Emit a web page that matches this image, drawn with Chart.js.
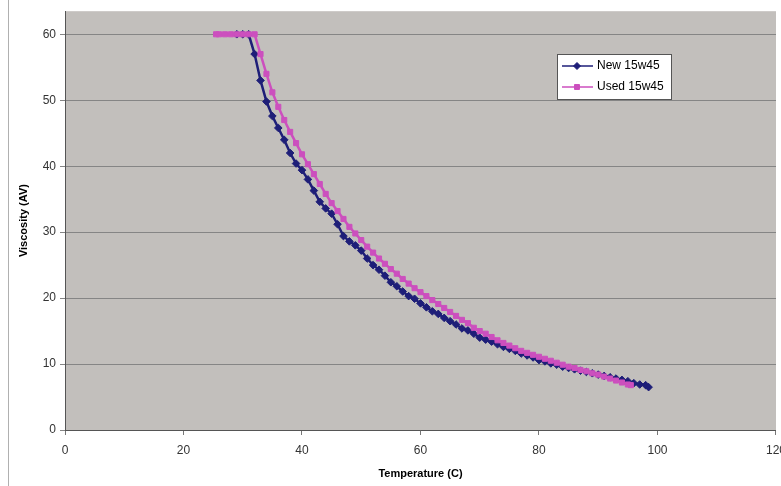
<!DOCTYPE html>
<html>
<head>
<meta charset="utf-8">
<script src="https://cdn.jsdelivr.net/npm/chart.js@4/dist/chart.umd.min.js"></script>
<style>
  html, body { margin: 0; padding: 0; background: #fff; overflow: hidden; }
  #wrap { position: relative; width: 781px; height: 486px; overflow: hidden; }
  #box { position: absolute; left: 0; top: 0; width: 794px; height: 486px; }
</style>
</head>
<body>
<div id="wrap"><div id="box"><canvas id="viscChart"></canvas></div></div>
<script>
const newTemps = [29,30,31,32,33,34,35,36,37,38,39,40,41,42,43,44,45,46,47,48,49,50,51,52,53,54,55,56,57,58,59,60,61,62,63,64,65,66,67,68,69,70,71,72,73,74,75,76,77,78,79,80,81,82,83,84,85,86,87,88,89,90,91,92,93,94,95,96,97,98,98.5];
const newVisc = [60,60,60,57.0,53.0,49.8,47.6,45.8,44.0,42.0,40.4,39.4,38.0,36.3,34.6,33.6,32.8,31.2,29.4,28.6,28.0,27.2,26.0,25.0,24.3,23.4,22.4,21.8,21.0,20.3,19.9,19.2,18.6,18.0,17.6,17.0,16.5,16.0,15.4,15.1,14.6,14.0,13.7,13.4,13.0,12.6,12.3,12.0,11.6,11.3,11.0,10.6,10.4,10.1,9.9,9.6,9.4,9.2,9.0,8.8,8.6,8.4,8.2,8.0,7.8,7.6,7.4,7.1,6.9,6.8,6.5];

const usedTemps = [25.5,26,27,28,29,30,31,32,33,34,35,36,37,38,39,40,41,42,43,44,45,46,47,48,49,50,51,52,53,54,55,56,57,58,59,60,61,62,63,64,65,66,67,68,69,70,71,72,73,74,75,76,77,78,79,80,81,82,83,84,85,86,87,88,89,90,91,92,93,94,95,95.5];
const usedVisc = [60,60,60,60,60,60,60,60,57,54,51.2,49.0,47.0,45.2,43.5,41.8,40.3,38.8,37.3,35.8,34.4,33.2,32.0,30.8,29.8,28.8,27.8,26.9,26.0,25.2,24.4,23.7,22.9,22.2,21.5,20.9,20.3,19.7,19.1,18.5,17.9,17.3,16.7,16.2,15.5,15.0,14.6,14.1,13.6,13.2,12.8,12.4,12.0,11.7,11.4,11.1,10.8,10.5,10.2,9.9,9.6,9.4,9.1,8.9,8.6,8.4,8.1,7.8,7.5,7.2,6.9,6.8];

const seriesNames = ["New 15w45", "Used 15w45"];
const xTicks = [0, 20, 40, 60, 80, 100, 120];
const yTicks = [0, 10, 20, 30, 40, 50, 60];

const NAVY = "#1e1e78";
const PINK = "#cc4fbe";
const FONT = "'Liberation Sans', Arial, sans-serif";

function toPoints(xs, ys) {
  return xs.map((x, i) => ({ x: x, y: ys[i] }));
}

// grey plot area, left border of the chart and the boxed legend
const frame = {
  id: "frame",
  beforeDraw(chart) {
    const { ctx, chartArea: a } = chart;
    ctx.save();
    ctx.fillStyle = "#c2bfbc";
    ctx.fillRect(a.left, a.top, a.right - a.left, a.bottom - a.top);
    ctx.strokeStyle = "#b0b0b0";
    ctx.lineWidth = 1;
    ctx.beginPath();
    ctx.moveTo(8.5, 0);
    ctx.lineTo(8.5, chart.height);
    ctx.stroke();
    ctx.restore();
  },
  afterDraw(chart) {
    const { ctx } = chart;
    const x0 = 557, y0 = 54, w = 114, h = 45;
    ctx.save();
    ctx.fillStyle = "#fff";
    ctx.fillRect(x0, y0, w, h);
    ctx.strokeStyle = "#555";
    ctx.lineWidth = 1;
    ctx.strokeRect(x0 + 0.5, y0 + 0.5, w, h);
    ctx.font = "12px " + FONT;
    ctx.textBaseline = "middle";
    const cols = [NAVY, PINK];
    const shapes = ["rectRot", "rect"];
    for (let i = 0; i < 2; i++) {
      const yy = y0 + 12 + i * 21;
      ctx.strokeStyle = cols[i];
      ctx.lineWidth = 1.5;
      ctx.beginPath();
      ctx.moveTo(x0 + 5, yy);
      ctx.lineTo(x0 + 36, yy);
      ctx.stroke();
      ctx.fillStyle = cols[i];
      ctx.lineWidth = 1;
      Chart.helpers.drawPoint(ctx, { pointStyle: shapes[i], radius: 3.5, borderWidth: 1 }, x0 + 20, yy);
      ctx.fillStyle = "#000";
      ctx.fillText(seriesNames[i], x0 + 40, yy);
    }
    ctx.restore();
  }
};

new Chart(document.getElementById("viscChart"), {
  type: "scatter",
  data: {
    datasets: [
      {
        label: seriesNames[0],
        data: toPoints(newTemps, newVisc),
        showLine: true,
        borderColor: NAVY,
        backgroundColor: NAVY,
        borderWidth: 2.5,
        pointStyle: "rectRot",
        pointRadius: 3.8,
        pointBorderWidth: 1,
        order: 1
      },
      {
        label: seriesNames[1],
        data: toPoints(usedTemps, usedVisc),
        showLine: true,
        borderColor: PINK,
        backgroundColor: PINK,
        borderWidth: 2.5,
        pointStyle: "rect",
        pointRadius: 3.6,
        pointBorderWidth: 1,
        order: 0
      }
    ]
  },
  options: {
    responsive: true,
    maintainAspectRatio: false,
    animation: false,
    layout: { padding: { top: 11, left: 17, right: 0, bottom: 0 } },
    plugins: {
      legend: { display: false },
      tooltip: { enabled: false }
    },
    scales: {
      x: {
        type: "linear",
        min: 0,
        max: 120,
        afterBuildTicks: (s) => { s.ticks = xTicks.map(v => ({ value: v })); },
        afterFit: (s) => { s.height = 56; },
        grid: { drawOnChartArea: false, tickLength: 5, color: "#777" },
        border: { color: "#555", width: 1 },
        ticks: {
          color: "#333",
          padding: 8,
          maxRotation: 0,
          font: { family: FONT, size: 12 }
        },
        title: {
          display: true,
          text: "Temperature (C)",
          color: "#000",
          padding: { top: 4, bottom: 5 },
          font: { family: FONT, size: 11, weight: "bold" }
        }
      },
      y: {
        type: "linear",
        min: 0,
        max: 63.5,
        afterBuildTicks: (s) => { s.ticks = yTicks.map(v => ({ value: v })); },
        afterFit: (s) => { s.width = 48; },
        grid: { color: "#858585", tickLength: 5, lineWidth: 1 },
        border: { color: "#555", width: 1 },
        ticks: {
          color: "#333",
          padding: 4,
          font: { family: FONT, size: 12 }
        },
        title: {
          display: true,
          text: "Viscosity (AV)",
          color: "#000",
          padding: { top: 0, bottom: 4 },
          font: { family: FONT, size: 11, weight: "bold" }
        }
      }
    }
  },
  plugins: [frame]
});
</script>
</body>
</html>
